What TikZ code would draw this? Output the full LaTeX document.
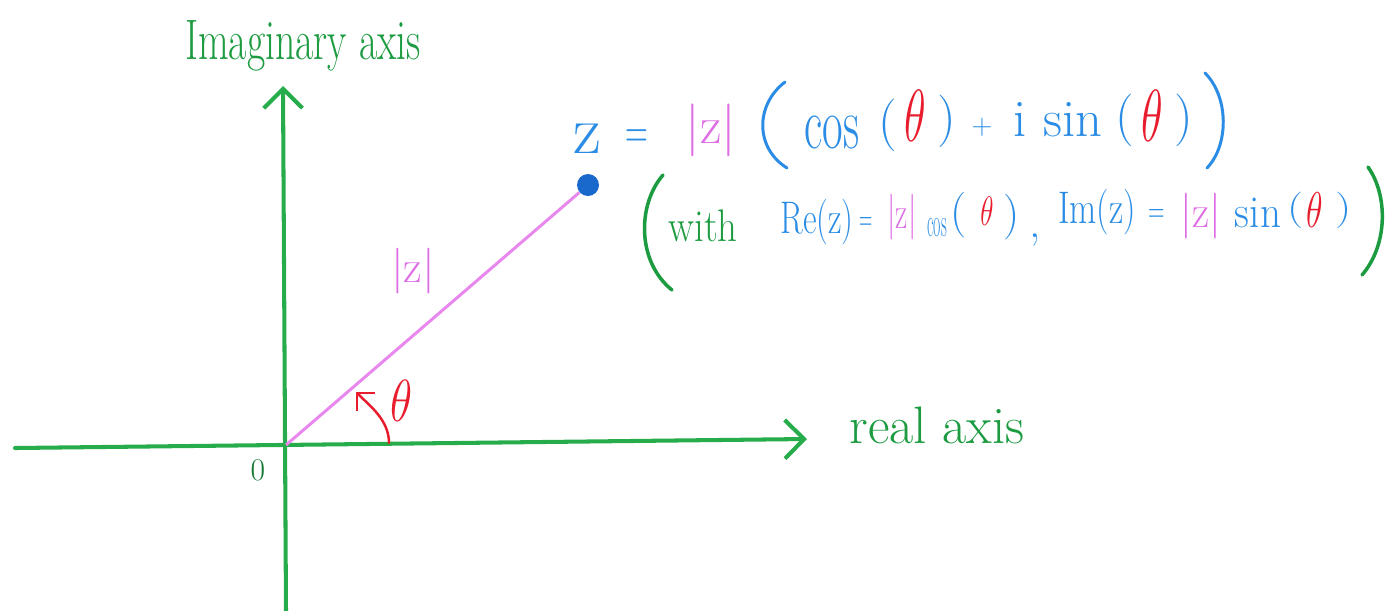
\RequirePackage{fix-cm}
\documentclass[tikz,border=0pt]{standalone}
\usepackage{graphicx}
\usetikzlibrary{arrows.meta}
\definecolor{axg}{RGB}{38,172,74}
\definecolor{txg}{RGB}{28,155,64}
\definecolor{zerog}{RGB}{20,120,50}
\definecolor{zb}{RGB}{42,140,228}
\definecolor{dotb}{RGB}{25,105,205}
\definecolor{zm}{RGB}{222,110,228}
\definecolor{lnm}{RGB}{232,135,238}
\definecolor{tr}{RGB}{232,28,45}
\newcommand\myfs[1]{\fontsize{#1}{#1}\selectfont}
\newcommand\sq[3]{\scalebox{#1}[#2]{#3}}
\begin{document}
\begin{tikzpicture}[x=0.02cm,y=-0.02cm,
  lbl/.style={inner sep=0pt, outer sep=0pt, anchor=center},
  axisline/.style={draw=axg, line width=2.3pt, line cap=round,
    -{Straight Barb[length=11pt,width=22pt]}},
  l1/.style={lbl, text=zb, font=\myfs{30}},
  l1m/.style={lbl, text=zm, font=\myfs{30}},
  l1r/.style={lbl, text=tr, font=\myfs{30}},
  l2/.style={lbl, text=zb, font=\myfs{26}},
  l2m/.style={lbl, text=zm, font=\myfs{26}},
  l2r/.style={lbl, text=tr, font=\myfs{26}},
  l2g/.style={lbl, text=txg, font=\myfs{26}},
  bigparb/.style={draw=zb, line width=1.7pt, line cap=round},
  bigparg/.style={draw=txg, line width=2pt, line cap=round}]
\path[use as bounding box] (0,0) rectangle (1387,610);

% axes
\coordinate (O) at (286,445);
\coordinate (xl) at (15,448);
\coordinate (xr) at (807,439);
\coordinate (yb) at (286,612);
\coordinate (yt) at (283,86);
\draw[axisline] (xl) -- (xr);
\draw[axisline] (yb) -- (yt);

\node[lbl, text=txg, font=\myfs{26}] (imlab) at (303,46) {\sq{0.87}{1.25}{Imaginary axis}};
\node[lbl, text=txg, font=\myfs{30}] (relab) at (937,425) {real axis};
\node[lbl, text=zerog, font=\myfs{18}] (zero) at (258,470) {0};

% point z
\node[circle, fill=dotb, inner sep=0pt, minimum size=0.44cm] (dot) at (588,185) {};
\draw[lnm, line width=1.7pt] (O) -- (dot);
\node[lbl, text=zm, font=\myfs{26}] (modz) at (413,271) {|z|};

% angle
\coordinate (a0) at (389,443);
\coordinate (a1) at (356,392);
\draw[tr, line width=1.4pt, line cap=round, -{Straight Barb[length=7pt,width=14pt]}]
  (a0) .. controls (389,420) and (370,406) .. (a1);
\node[lbl, text=tr, font=\myfs{26}] (thlab) at (402,401) {\sq{1}{1.3}{$\theta$}};

% line 1
\node[l1] (z1) at (587,139) {\sq{1.3}{1.3}{z}};
\node[l1] (eq1) at (637,139) {\sq{0.6}{1}{=}};
\node[l1m] (mz1) at (711,130) {|z|};
\draw[bigparb] (785,82) .. controls (755,105) and (755,148) .. (787,168);
\node[l1] (cos1) at (832,132) {\sq{0.85}{1.4}{cos}};
\node[l1] (lp1) at (888,125) {(};
\node[l1r] (th1) at (915,116) {\sq{0.85}{1.4}{$\theta$}};
\node[l1] (rp1) at (947,121) {)};
\node[l1] (pl1) at (982,127) {\sq{0.55}{0.55}{+}};
\node[l1] (i1) at (1020,119) {i};
\node[l1] (sin1) at (1073,120) {sin};
\node[l1] (lp2) at (1125,120) {(};
\node[l1r] (th2) at (1152,116) {\sq{0.85}{1.4}{$\theta$}};
\node[l1] (rp2) at (1184,120) {)};
\draw[bigparb] (1205,73) .. controls (1229,97) and (1229,145) .. (1207,168);

% line 2
\draw[bigparg] (663,175) .. controls (637,205) and (637,262) .. (672,290);
\node[l2g] (with) at (703,226) {\sq{0.85}{1}{with}};
\node[l2] (re) at (817,222) {\sq{0.73}{1}{Re(z)}};
\node[l2] (eq2) at (866,224) {\sq{0.4}{0.8}{=}};
\node[l2m] (mz2) at (902,217) {\sq{0.66}{1}{|z|}};
\node[l2] (cos2) at (937,228) {\sq{0.35}{0.9}{cos}};
\node[l2] (lp3) at (959,215) {(};
\node[l2r] (th3) at (987,211) {\sq{0.6}{0.9}{$\theta$}};
\node[l2] (rp3) at (1012,217) {)};
\node[l2] (cm) at (1035,240) {,};
\node[l2] (im) at (1097,212) {\sq{0.77}{1}{Im(z)}};
\node[l2] (eq3) at (1157,216) {\sq{0.5}{0.8}{=}};
\node[l2m] (mz3) at (1201,216) {\sq{0.92}{1}{|z|}};
\node[l2] (sin2) at (1258,213) {\sq{0.9}{1}{sin}};
\node[l2] (lp4) at (1296,210) {\sq{1}{0.8}{(}};
\node[l2r] (th4) at (1315,210) {\sq{0.75}{1.1}{$\theta$}};
\node[l2] (rp4) at (1344,210) {\sq{1}{0.8}{)}};
\draw[bigparg] (1368,167) .. controls (1388,195) and (1388,245) .. (1362,275);
\end{tikzpicture}
\end{document}
